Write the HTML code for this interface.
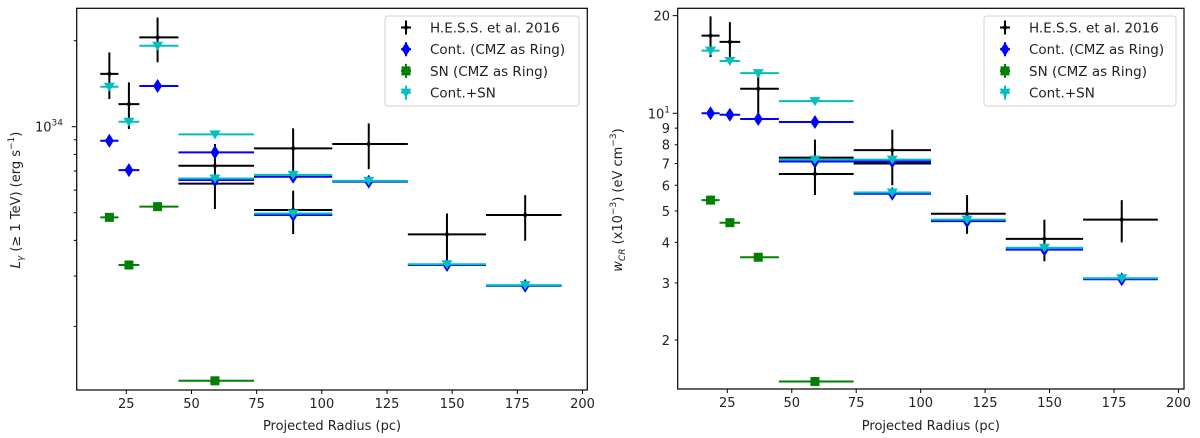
<!DOCTYPE html>
<html><head><meta charset="utf-8">
<style>
html,body{margin:0;padding:0;background:#fff;}
svg{display:block;font-family:"DejaVu Sans","Liberation Sans",sans-serif;}
</style></head>
<body>
<svg id="chart" width="1200" height="438" viewBox="0 0 1200 438" xmlns="http://www.w3.org/2000/svg"></svg>
<script>
// ---- data ----
const xCenters = [18.5,26,37,59,59,89,89,118,148,178];
const xLow = [15,22,30,45,45,74,74,104,133,163];
const xHigh = [22,30,45,74,74,104,104,133,163,192];
const xTicks = [25,50,75,100,125,150,175,200];
// left panel (units of 1e34 erg/s)
const lumHess = [1.53,1.20,2.055,0.73,0.632,0.84,0.511,0.87,0.42,0.491];
const lumHessLo = [1.25,0.981,1.68,0.515,0.632,0.696,0.421,0.71,0.328,0.399];
const lumHessHi = [1.82,1.43,2.41,0.87,0.632,0.987,0.597,1.027,0.497,0.576];
const lumCont = [0.893,0.705,1.388,0.813,0.651,0.668,0.491,0.642,0.328,0.2776];
const lumContSN = [1.38,1.041,1.921,0.94,0.659,0.678,0.497,0.646,0.330,0.279];
const lumSN = [0.4816,0.328,0.525,0.129];
// right panel (x1e-3 eV/cm3)
const wHess = [17.35,16.6,11.9,7.3,6.5,7.7,7.0,4.9,4.1,4.7];
const wHessLo = [14.9,14.9,9.9,7.3,5.6,6.0,7.0,4.25,3.5,4.0];
const wHessHi = [19.9,19.1,13.1,7.3,8.3,8.9,7.0,5.6,4.7,5.4];
const wCont = [10.0,9.9,9.6,9.4,7.1,7.1,5.65,4.65,3.8,3.08];
const wContSN = [15.6,14.5,13.3,10.9,7.2,7.2,5.7,4.7,3.85,3.1];
const wSN = [5.4,4.6,3.6,1.49];
const rightYTicks = [2,3,4,5,6,7,8,9,10,20];
const rightYLabels = ["2","3","4","5","6","7","8","9","10¹","20"];

const NS="http://www.w3.org/2000/svg";
const svg=document.getElementById('chart');
function mk(tag,attrs,parent){const e=document.createElementNS(NS,tag);for(const k in attrs)e.setAttribute(k,attrs[k]);(parent||svg).appendChild(e);return e;}

function panel(P){
  const g=mk('g',{});
  
  
  const X=v=>P.x25+(v-25)*P.xs;
  const Y=v=>P.yRef-(Math.log10(v)-P.logRef)*P.ypd;
  // ticks x
  xTicks.forEach(t=>{
    const tk=mk('line',{x1:X(t),x2:X(t),y1:P.bottom,y2:P.bottom+4,stroke:'#000','stroke-width':1},g);
    
    
    const tl=mk('text',{x:X(t),y:P.bottom+18,'text-anchor':'middle','font-size':13,fill:'#222'},g);
    tl.textContent=t;
    
    
  });
  const xl=mk('text',{x:(P.left+P.right)/2,y:430,'text-anchor':'middle','font-size':13,fill:'#222'},g);
  xl.textContent='Projected Radius (pc)';
  
  
  P.yticks(g,Y);
  // series
  function errbar(xs,vals,lo,hi,color,marker,name){
    vals.forEach((v,i)=>{
      const s=mk('g',{},g);
      
      
      const x=X(xs[i]),y=Y(v);
      mk('line',{x1:X(xLow[i]),x2:X(xHigh[i]),y1:y,y2:y,stroke:color,'stroke-width':2},s);
      if(lo&&hi&&lo[i]!==hi[i]) mk('line',{x1:x,x2:x,y1:Y(hi[i]),y2:Y(lo[i]),stroke:color,'stroke-width':2},s);
      drawMarker(s,marker,x,y,color);
    });
  }
  errbar(xCenters,P.hess,P.hessLo,P.hessHi,'#000','dot','hess-point');
  errbar(xCenters,P.cont,null,null,'#0000ff','diamond','cont-point');
  errbar(xCenters.slice(0,4),P.sn,null,null,'#008000','square','sn-point');
  errbar(xCenters,P.contsn,null,null,'#00bfbf','tri','contsn-point');
  mk('rect',{x:P.left,y:P.top,width:P.right-P.left,height:P.bottom-P.top,fill:'none',stroke:'#000','stroke-width':1.2},g);
  // legend
  const L=mk('g',{},g);
  
  
  mk('rect',{x:P.legX,y:16,width:P.legW,height:90,rx:3,fill:'#fff',stroke:'#ccc','stroke-width':1,opacity:0.9},L);
  const ents=[['H.E.S.S. et al. 2016','#000','dot'],['Cont. (CMZ as Ring)','#0000ff','diamond'],['SN (CMZ as Ring)','#008000','square'],['Cont.+SN','#00bfbf','tri']];
  ents.forEach((e,i)=>{
    const y=27.5+i*21.7, mx=P.legX+21;
    const eg=mk('g',{},L);
    
    
    mk('line',{x1:mx-5,x2:mx+5,y1:y,y2:y,stroke:e[1],'stroke-width':2},eg);
    mk('line',{x1:mx,x2:mx,y1:y-7,y2:y+7,stroke:e[1],'stroke-width':2},eg);
    drawMarker(eg,e[2],mx,y,e[1]);
    const t=mk('text',{x:P.legX+45,y:y+5,'font-size':13.5,fill:'#222'},eg);
    t.textContent=e[0];
  });
}
function drawMarker(p,m,x,y,c){
  if(m==='dot') mk('circle',{cx:x,cy:y,r:2,fill:c},p);
  else if(m==='diamond') mk('polygon',{points:`${x},${y-7} ${x+4.5},${y} ${x},${y+7} ${x-4.5},${y}`,fill:c},p);
  else if(m==='square') mk('rect',{x:x-4.5,y:y-4.5,width:9,height:9,fill:c},p);
  else if(m==='tri') mk('polygon',{points:`${x-5.5},${y-4} ${x+5.5},${y-4} ${x},${y+5}`,fill:c},p);
}

panel({name:'left-panel',left:76.7,right:587.3,top:8.3,bottom:390,x25:126.3,xs:2.607,
  yRef:126.7,logRef:0,ypd:285.7,legX:385,legW:194,
  hess:lumHess,hessLo:lumHessLo,hessHi:lumHessHi,cont:lumCont,contsn:lumContSN,sn:lumSN,
  yticks:(g,Y)=>{
    [0.2,0.3,0.4,0.5,0.6,0.7,0.8,0.9,1,2].forEach(v=>{
      const len=v===1?5:3;
      const t=mk('line',{x1:76.7-len,x2:76.7,y1:Y(v),y2:Y(v),stroke:'#000','stroke-width':1},g);
      
      
    });
    const t=mk('text',{x:63,y:Y(1)+5,'text-anchor':'end','font-size':13,fill:'#222'},g);
    t.innerHTML='10<tspan font-size="9" dy="-6">34</tspan>';
    
    
    const yl=mk('text',{x:0,y:0,'text-anchor':'middle','font-size':13,fill:'#222',transform:'translate(20,200) rotate(-90)'},g);
    yl.innerHTML='<tspan font-style="italic">L</tspan><tspan font-size="9" dy="3" font-style="italic">γ</tspan><tspan dy="-3"> (≥ 1 TeV) (erg s</tspan><tspan font-size="9" dy="-6">−1</tspan><tspan dy="6">)</tspan>';
    
    
  }});

panel({name:'right-panel',left:677.7,right:1184,top:8.3,bottom:389,x25:727.3,xs:2.578,
  yRef:113.3,logRef:1,ypd:324.4,legX:984,legW:192,
  hess:wHess,hessLo:wHessLo,hessHi:wHessHi,cont:wCont,contsn:wContSN,sn:wSN,
  yticks:(g,Y)=>{
    rightYTicks.forEach((v,i)=>{
      const len=(v===10||v===20)?5:3;
      const t=mk('line',{x1:677.7-len,x2:677.7,y1:Y(v),y2:Y(v),stroke:'#000','stroke-width':1},g);
      
      
      const l=mk('text',{x:670,y:Y(v)+5,'text-anchor':'end','font-size':13,fill:'#222'},g);
      if(v===10) l.innerHTML='10<tspan font-size="9" dy="-6">1</tspan>'; else l.textContent=rightYLabels[i];
      
      
    });
    const yl=mk('text',{x:0,y:0,'text-anchor':'middle','font-size':13,fill:'#222',transform:'translate(622,200) rotate(-90)'},g);
    yl.innerHTML='<tspan font-style="italic">w</tspan><tspan font-size="9" dy="3" font-style="italic">CR</tspan><tspan dy="-3"> (x10</tspan><tspan font-size="9" dy="-6">−3</tspan><tspan dy="6">) (eV cm</tspan><tspan font-size="9" dy="-6">−3</tspan><tspan dy="6">)</tspan>';
    
    
  }});
</script>
</body></html>
